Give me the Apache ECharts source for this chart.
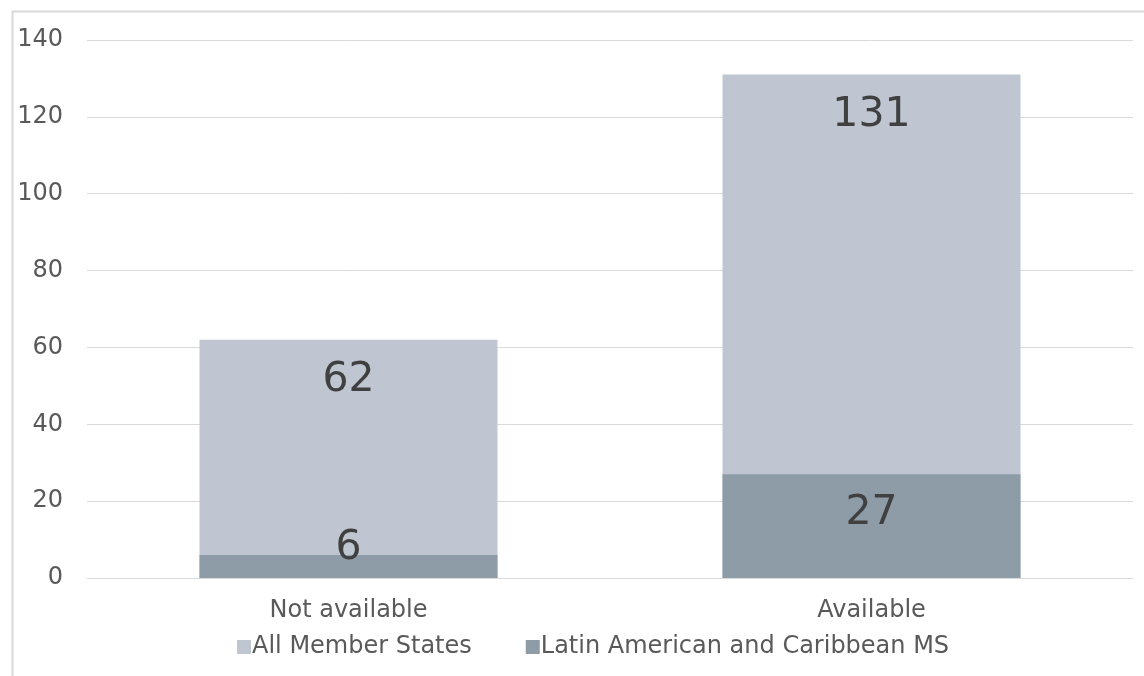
<!DOCTYPE html>
<html>
<head>
<meta charset="utf-8">
<script src="https://cdn.jsdelivr.net/npm/echarts@6/dist/echarts.min.js"></script>
<style>
html,body{margin:0;padding:0;background:#fff;}
#chart{width:1144px;height:676px;}
</style>
</head>
<body>
<div id="chart"></div>
<script>
const categories = ['Not available', 'Available'];
const seriesNames = ['All Member States', 'Latin American and Caribbean MS'];
const allMemberStates = [62, 131];
const latinAmericanMS = [6, 27];

const FONT = '"DejaVu Sans", Verdana, sans-serif';
const chart = echarts.init(document.getElementById('chart'), null, {renderer: 'canvas'});

chart.setOption({
  animation: false,
  backgroundColor: '#ffffff',
  graphic: [{
    type: 'rect',
    left: 10, top: 9,
    shape: {width: 1200, height: 700},
    style: {fill: 'none', stroke: '#d9d9d9', lineWidth: 2},
    silent: true,
    z: -10
  }],
  grid: {left: 87, right: 11, top: 40, bottom: 98, containLabel: false},
  legend: {
    data: seriesNames,
    left: 232,
    top: 630,
    icon: 'rect',
    itemWidth: 14,
    itemHeight: 14,
    itemGap: 54,
    textStyle: {fontFamily: FONT, fontSize: 24, color: '#595959', padding: [0, 0, 0, -4]}
  },
  xAxis: {
    type: 'category',
    data: categories,
    axisLine: {show: true, lineStyle: {color: '#d9d9d9', width: 1}},
    axisTick: {show: false},
    axisLabel: {fontFamily: FONT, fontSize: 24, color: '#595959', margin: 21}
  },
  yAxis: {
    type: 'value',
    min: 0, max: 140, interval: 20,
    axisLine: {show: false},
    axisTick: {show: false},
    splitLine: {lineStyle: {color: '#d9d9d9', width: 1}},
    axisLabel: {fontFamily: FONT, fontSize: 24, color: '#595959', margin: 24}
  },
  series: [
    {
      name: seriesNames[0],
      type: 'bar',
      data: allMemberStates,
      barWidth: 298,
      itemStyle: {color: '#bfc6d1'},
      label: {
        show: true, position: 'insideTop', distance: 20,
        fontFamily: FONT, fontSize: 41, color: '#404040'
      }
    },
    {
      name: seriesNames[1],
      type: 'bar',
      data: latinAmericanMS.map((v, i) => i === 0
        ? {value: v, label: {position: 'top', distance: -14}}
        : {value: v}),
      barWidth: 298,
      barGap: '-100%',
      itemStyle: {color: '#8e9ca8'},
      label: {
        show: true, position: 'insideTop', distance: 19,
        fontFamily: FONT, fontSize: 41, color: '#404040'
      }
    }
  ]
});
</script>
</body>
</html>
